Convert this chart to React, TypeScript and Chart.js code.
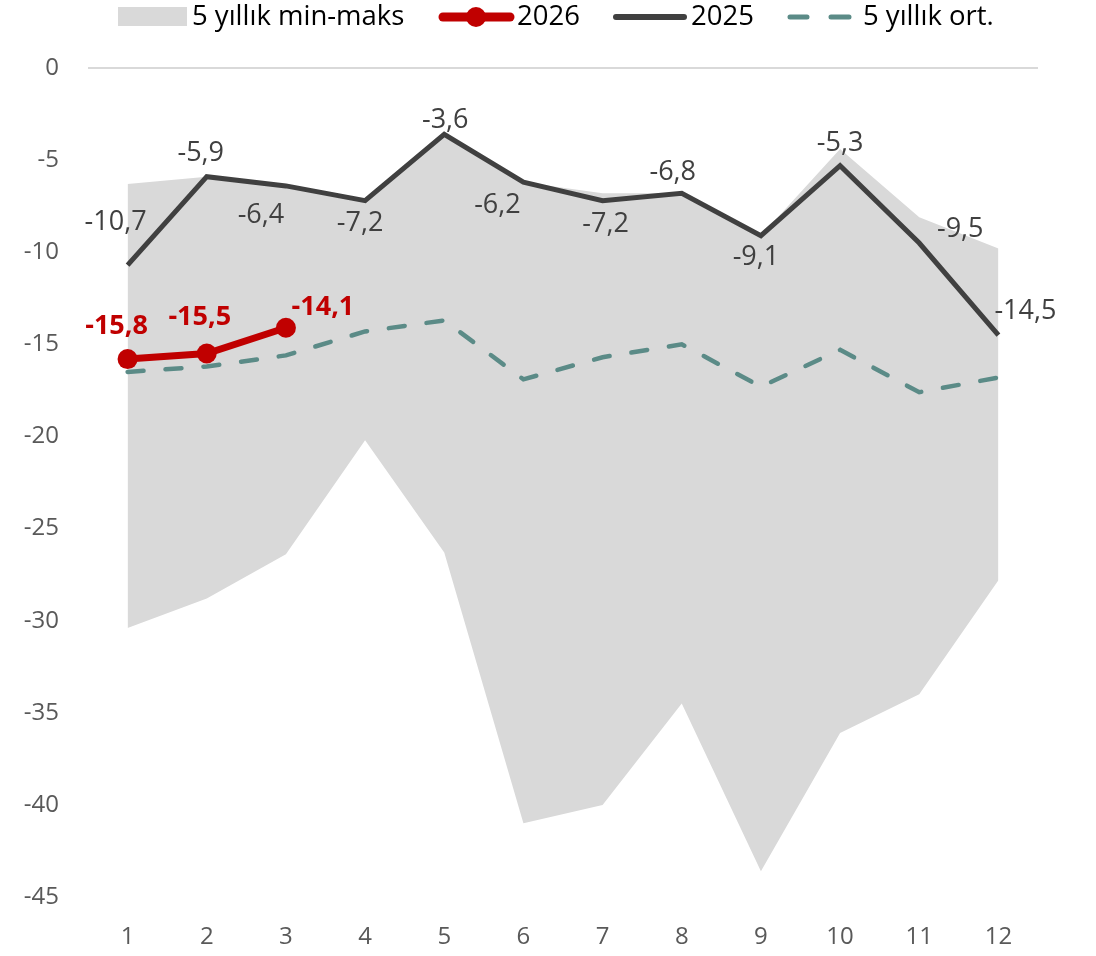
import React, { useEffect, useRef } from 'react';
import { Chart, registerables } from 'chart.js';

Chart.register(...registerables);

// ---- data ----
const categories = ['1', '2', '3', '4', '5', '6', '7', '8', '9', '10', '11', '12'];
const bandMax = [-6.3, -5.9, -6.4, -7.2, -3.6, -6.2, -6.8, -6.8, -9.1, -4.4, -8.1, -9.8];
const bandMin = [-30.4, -28.8, -26.4, -20.2, -26.3, -41.0, -40.0, -34.5, -43.6, -36.1, -34.0, -27.8];
const series2025 = [-10.7, -5.9, -6.4, -7.2, -3.6, -6.2, -7.2, -6.8, -9.1, -5.3, -9.5, -14.5];
const series2026 = [-15.8, -15.5, -14.1];
const avg5 = [-16.5, -16.2, -15.6, -14.3, -13.7, -16.9, -15.7, -15.0, -17.3, -15.3, -17.6, -16.8];
const legendLabels = ['5 yıllık min-maks', '2026', '2025', '5 yıllık ort.'];
const yMin = -45;
const yMax = 0;
const yStep = 5;

// ---- label placement (offsets of label centre from point, px) ----
const off2025 = [
  [-12, -43], [-6, -23], [-25, 29], [-5, 23], [1, -14], [-26, 23],
  [3, 24], [-9, -21], [-5, 22], [0, -22], [41, -14], [27, -24],
];
const off2026 = [[-11, -33], [-7, -36], [37, -20]];

// ---- colours ----
const C_BAND = '#d9d9d9';
const C_2026 = '#c00000';
const C_2025 = '#404040';
const C_AVG = '#5b8b87';
const FONT = '"Open Sans", "Noto Sans", sans-serif';

const fmt = (v: number) => v.toFixed(1).replace('.', ',');

const labelPlugin = {
  id: 'valueLabels',
  afterDatasetsDraw(chart: any) {
    const ctx = chart.ctx;
    ctx.save();
    ctx.textAlign = 'center';
    ctx.textBaseline = 'middle';
    const m25 = chart.getDatasetMeta(2);
    ctx.font = `27px ${FONT}`;
    ctx.fillStyle = C_2025;
    m25.data.forEach((pt: any, i: number) => {
      const o = off2025[i];
      ctx.fillText(fmt(series2025[i]), pt.x + o[0], pt.y + o[1]);
    });
    const m26 = chart.getDatasetMeta(3);
    ctx.font = `bold 27px ${FONT}`;
    ctx.fillStyle = C_2026;
    m26.data.forEach((pt: any, i: number) => {
      const o = off2026[i];
      ctx.fillText(fmt(series2026[i]), pt.x + o[0], pt.y + o[1]);
    });
    ctx.restore();
  },
};

const legendPlugin = {
  id: 'customLegend',
  afterDraw(chart: any) {
    const ctx = chart.ctx;
    const y = 17;
    ctx.save();
    ctx.font = `27.5px ${FONT}`;
    ctx.textBaseline = 'middle';
    ctx.textAlign = 'left';
    // item 1: band box
    ctx.fillStyle = C_BAND;
    ctx.fillRect(118, 7, 69, 19);
    ctx.fillStyle = '#000';
    ctx.fillText(legendLabels[0], 192, y);
    // item 2: red line + marker
    ctx.strokeStyle = C_2026;
    ctx.lineWidth = 9;
    ctx.lineCap = 'round';
    ctx.beginPath();
    ctx.moveTo(443, y);
    ctx.lineTo(510, y);
    ctx.stroke();
    ctx.fillStyle = C_2026;
    ctx.beginPath();
    ctx.arc(476, y, 10, 0, Math.PI * 2);
    ctx.fill();
    ctx.fillStyle = '#000';
    ctx.fillText(legendLabels[1], 517, y);
    // item 3: dark line
    ctx.strokeStyle = C_2025;
    ctx.lineWidth = 6;
    ctx.beginPath();
    ctx.moveTo(616, y);
    ctx.lineTo(684, y);
    ctx.stroke();
    ctx.fillText(legendLabels[2], 691, y);
    // item 4: dashed teal
    ctx.strokeStyle = C_AVG;
    ctx.lineWidth = 5;
    ctx.beginPath();
    ctx.moveTo(790, y);
    ctx.lineTo(807, y);
    ctx.moveTo(831, y);
    ctx.lineTo(849, y);
    ctx.stroke();
    ctx.fillText(legendLabels[3], 863, y);
    ctx.restore();
  },
};

export default function App() {
  const ref = useRef<HTMLCanvasElement>(null);
  useEffect(() => {
    document.body.style.margin = '0';
    document.body.style.overflow = 'hidden';
    if (!ref.current) return;
    const chart = new Chart(ref.current, {
      type: 'line',
      data: {
        labels: categories,
        datasets: [
          {
            label: 'max',
            data: bandMax,
            borderWidth: 0,
            pointRadius: 0,
            backgroundColor: C_BAND,
            fill: '+1',
            tension: 0,
            order: 4,
          },
          {
            label: 'min',
            data: bandMin,
            borderWidth: 0,
            pointRadius: 0,
            backgroundColor: C_BAND,
            fill: false,
            tension: 0,
            order: 5,
          },
          {
            label: legendLabels[2],
            data: series2025,
            borderColor: C_2025,
            borderWidth: 5,
            pointRadius: 0,
            fill: false,
            tension: 0,
            order: 2,
          },
          {
            label: legendLabels[1],
            data: series2026,
            borderColor: C_2026,
            backgroundColor: C_2026,
            borderWidth: 7,
            pointRadius: 10,
            pointBorderWidth: 0,
            pointBackgroundColor: C_2026,
            fill: false,
            tension: 0,
            order: 1,
          },
          {
            label: legendLabels[3],
            data: avg5,
            borderColor: C_AVG,
            borderWidth: 4.5,
            borderDash: [16, 22],
            borderCapStyle: 'round',
            pointRadius: 0,
            fill: false,
            tension: 0,
            order: 3,
          },
        ],
      },
      options: {
        animation: false,
        responsive: true,
        maintainAspectRatio: false,
        layout: { padding: { top: 68, right: 58, left: 0, bottom: 0 } },
        plugins: {
          legend: { display: false },
          tooltip: { enabled: false },
        },
        scales: {
          x: {
            offset: true,
            grid: { display: false, drawTicks: false },
            border: { display: false },
            ticks: {
              color: '#595959',
              font: { family: FONT, size: 24 },
              padding: 26,
              maxRotation: 0,
            },
            afterFit: (s: any) => {
              s.height = 59;
            },
          },
          y: {
            min: yMin,
            max: yMax,
            grid: {
              drawTicks: false,
              lineWidth: 2,
              color: (c: any) => (c.tick && c.tick.value === 0 ? '#d9d9d9' : 'rgba(0,0,0,0)'),
            },
            border: { display: false },
            ticks: {
              stepSize: yStep,
              color: '#595959',
              font: { family: FONT, size: 24 },
              padding: 29,
              callback: (v: any) => String(v),
            },
            afterFit: (s: any) => {
              s.width = 88;
            },
          },
        },
      },
      plugins: [labelPlugin, legendPlugin],
    });
    return () => chart.destroy();
  }, []);
  return (
    <div style={{ width: 1096, height: 956, position: 'relative' }}>
      <canvas ref={ref} />
    </div>
  );
}
